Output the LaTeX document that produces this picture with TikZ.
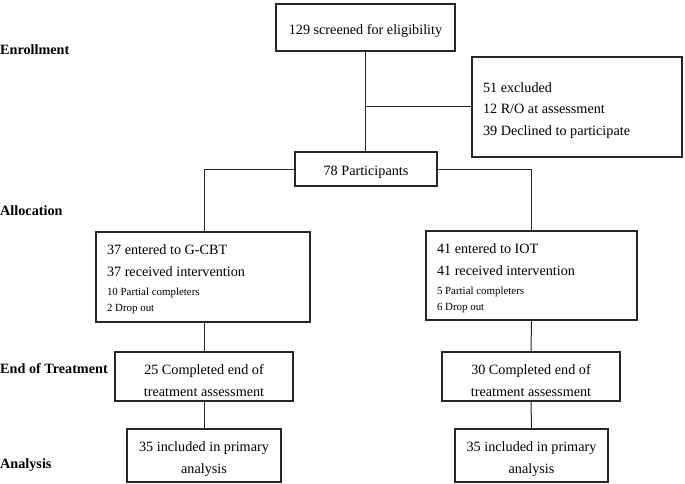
\documentclass[tikz,border=0pt]{standalone}
\usepackage{fontspec}
\setmainfont{Liberation Serif}
\newcommand{\smline}[1]{{\fontsize{10.9}{17}\selectfont\spaceskip=0pt\xspaceskip=0pt #1}}
\newcommand{\nsp}{\spaceskip=0pt\xspaceskip=0pt\relax}
\begin{document}
\begin{tikzpicture}[x=1pt,y=-1pt,
  box/.style={draw=black!85, line width=1.3pt, inner sep=0pt, font=\fontsize{14.2}{22}\selectfont},
  lbox/.style={box, align=left, inner xsep=11pt},
  abox/.style={box, line width=1.8pt},
  conn/.style={draw=black!85, line width=1pt},
  phase/.style={anchor=west, inner sep=0pt, font=\fontsize{14.2}{16}\selectfont\bfseries}]
\useasboundingbox (0,0) rectangle (685,484);
\node[box, minimum width=179, minimum height=47] (scr) at (365.5,27.5) {\rule{0pt}{17pt}129 screened for eligibility};
\node[lbox, text width=188, minimum height=100] (exc) at (577,107) {\nsp\begin{tabular}{@{}l@{}}\nsp\rule{0pt}{20.5pt}51 excluded\\[-0.5pt]\nsp 12 R/O at assessment\\[-0.5pt]\nsp 39 Declined to participate\end{tabular}};
\node[box, minimum width=142, minimum height=34] (p78) at (366,169) {\rule{0pt}{16pt}78 Participants};
\node[lbox, text width=192, minimum height=90] (gcbt) at (203,277) {\nsp\begin{tabular}{@{}l@{}}\nsp\rule{0pt}{19.5pt}37 entered to G-CBT\\[0pt]\nsp 37 received intervention\\[-3pt]\smline{10 Partial completers}\\[-6pt]\smline{2 Drop out}\end{tabular}};
\node[lbox, text width=189, minimum height=89] (iot) at (531.5,275.5) {\nsp\begin{tabular}{@{}l@{}}\nsp\rule{0pt}{19.5pt}41 entered to IOT\\[0pt]\nsp 41 received intervention\\[-3pt]\smline{5 Partial completers}\\[-6pt]\smline{6 Drop out}\end{tabular}};
\node[box, align=center, minimum width=178, minimum height=49] (endL) at (204,376.5) {\rule{0pt}{18pt}25 Completed end of\\treatment assessment};
\node[box, align=center, minimum width=178, minimum height=49] (endR) at (531,376.5) {\rule{0pt}{18pt}30 Completed end of\\treatment assessment};
\node[abox, align=center, minimum width=154, minimum height=53] (anL) at (204,455.5) {\rule{0pt}{18pt}35 included in primary\\analysis};
\node[abox, align=center, minimum width=153, minimum height=53] (anR) at (531.5,455.5) {\rule{0pt}{18pt}35 included in primary\\analysis};
\node[phase] (l1) at (0,50) {Enrollment};
\node[phase] (l2) at (0,211) {Allocation};
\node[phase] (l3) at (0,369) {End of Treatment};
\node[phase] (l4) at (0,465) {Analysis};
\coordinate (j) at (scr.south |- exc.west);
\draw[conn] (scr.south) -- (scr.south |- p78.north);
\draw[conn] (j) -- (exc.west);
\draw[conn] (p78.west) -| (endL.north |- gcbt.north);
\draw[conn] (p78.east) -| (iot.north);
\draw[conn] (endL.north |- gcbt.south) -- (endL.north);
\draw[conn] (iot.south) -- (endR.north);
\draw[conn] (endL.south) -- (anL.north);
\draw[conn] (endR.south) -- (anR.north);
\end{tikzpicture}
\end{document}
